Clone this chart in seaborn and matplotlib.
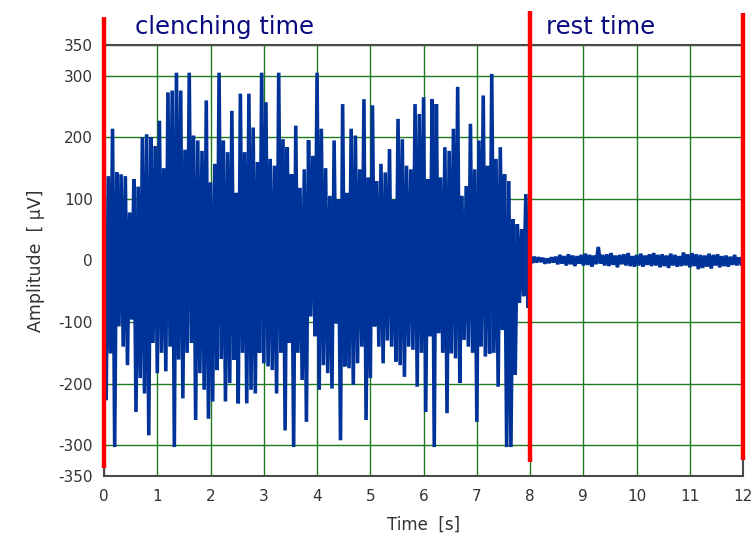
import numpy as np
import pandas as pd
import matplotlib
matplotlib.use("Agg")
import matplotlib.pyplot as plt
import seaborn as sns

# -----------------------------
# data (uV)
# -----------------------------
# positive peaks of the clenching burst, one every 0.08 s from t=0
clench_up = [
    95, 137, 214, 143, 140, 137, 78, 132, 120, 200,
    205, 200, 186, 227, 150, 273, 276, 305, 276, 180,
    305, 203, 195, 178, 260, 127, 157, 305, 195, 176,
    243, 110, 271, 176, 271, 216, 160, 305, 257, 165,
    154, 305, 197, 184, 140, 219, 118, 148, 195, 170,
    305, 214, 150, 105, 195, 99, 254, 110, 214, 203,
    148, 262, 135, 252, 129, 157, 143, 181, 99, 230,
    197, 154, 148, 254, 238, 265, 132, 262, 254, 135,
    184, 178, 214, 282, 105, 121, 222, 148, 195, 268,
    154, 303, 165, 184, 140, 129, 67, 59, 51, 108,
]
# negative peaks, 0.04 s after each positive one
clench_down = [
    -227, -151, -303, -107, -140, -170, -96, -246, -191, -216,
    -284, -134, -183, -150, -180, -140, -303, -161, -224, -150,
    -134, -259, -183, -210, -257, -229, -178, -160, -229, -199,
    -161, -232, -150, -232, -210, -216, -150, -167, -172, -178,
    -216, -150, -276, -134, -303, -150, -194, -262, -91, -123,
    -210, -170, -183, -208, -102, -292, -172, -175, -202, -167,
    -140, -259, -191, -107, -140, -167, -130, -140, -164, -170,
    -189, -140, -145, -205, -150, -246, -123, -303, -118, -150,
    -248, -151, -159, -199, -129, -140, -150, -262, -140, -156,
    -151, -150, -205, -113, -303, -303, -186, -69, -58, -77,
]
# rest period, one sample every 0.04 s from t=8
rest_uv = [
    8, -4, 6, -3, 5, -2, 4, -5, 3, -4, 5, -3,
    6, -6, 9, -5, 7, -8, 10, -6, 8, -9, 7, -5, 9,
    -8, 11, -7, 9, -10, 8, -6, 22, -5, 9, -8, 10,
    -9, 12, -7, 8, -11, 9, -6, 10, -8, 12, -9, 7, -10,
    9, -8, 11, -10, 8, -7, 10, -9, 12, -8, 9, -11,
    10, -9, 8, -12, 11, -8, 9, -10, 7, -9, 13, -8, 10,
    -11, 12, -9, 10, -14, 9, -12, 8, -10, 11, -13, 9,
    -8, 10, -11, 7, -9, 8, -10, 6, -7, 9, -8, 5, -6,
]

phase_marks = [0, 8, 12]
phase_names = ["clenching time", "rest time"]
y_ticks = [-350, -300, -200, -100, 0, 100, 200, 300, 350]
x_ticks = list(range(0, 13))

# -----------------------------
# build the signal table
# -----------------------------
dt = 0.04
clench = [v for pair in zip(clench_up, clench_down) for v in pair]
t_clench = np.arange(len(clench)) * dt
t_rest = 8 + np.arange(len(rest_uv)) * dt
df = pd.DataFrame({
    "t": np.concatenate([t_clench, t_rest]),
    "uv": clench + rest_uv,
})

# -----------------------------
# plot
# -----------------------------
sns.set_style("white")
plt.rcParams["font.family"] = ["DejaVu Sans"]

fig = plt.figure(figsize=(7.56, 5.4), dpi=100)
ax = fig.add_axes([0.1376, 0.1185, 0.8454, 0.7982])

sns.lineplot(data=df, x="t", y="uv", ax=ax, color="#003399", lw=2.6,
             estimator=None, sort=False, zorder=3)
for ln in ax.lines:
    ln.set_solid_joinstyle("bevel")

ax.set_xlim(0, 12)
ax.set_ylim(-350, 350)
ax.set_xticks(x_ticks)
ax.set_yticks(y_ticks)
ax.set_xticklabels([str(x) for x in x_ticks])
ax.set_yticklabels([str(y) for y in y_ticks])

ax.grid(True, color="#1f7a1f", lw=1.0)
ax.set_axisbelow(True)

for s in ax.spines.values():
    s.set_color("#4a4a4a")
    s.set_linewidth(1.5)

ax.tick_params(axis="both", direction="out", length=6, width=1.2,
               color="#4a4a4a", labelcolor="#333333", labelsize=11)
ax.tick_params(axis="y", pad=2)

ax.set_xlabel("Time  [s]", fontsize=12, color="#333333", labelpad=8)
ax.set_ylabel("Amplitude  [ µV]", fontsize=12.5, color="#333333", labelpad=10)

# phase markers (red) reach above the frame
tops = [395, 405, 402]
bottoms = [-337, -327, -324]
for xm, y0, y1 in zip(phase_marks, bottoms, tops):
    ax.plot([xm, xm], [y0, y1], color="#ff0000", lw=3.2, clip_on=False,
            zorder=5, solid_capstyle="butt")

ax.text(0.58, 379, phase_names[0], color="#0a0a80", fontsize=17.5,
        va="center", ha="left", clip_on=False)
ax.text(8.30, 379, phase_names[1], color="#0a0a80", fontsize=17.5,
        va="center", ha="left", clip_on=False)

fig.savefig("out.png", dpi=100)
